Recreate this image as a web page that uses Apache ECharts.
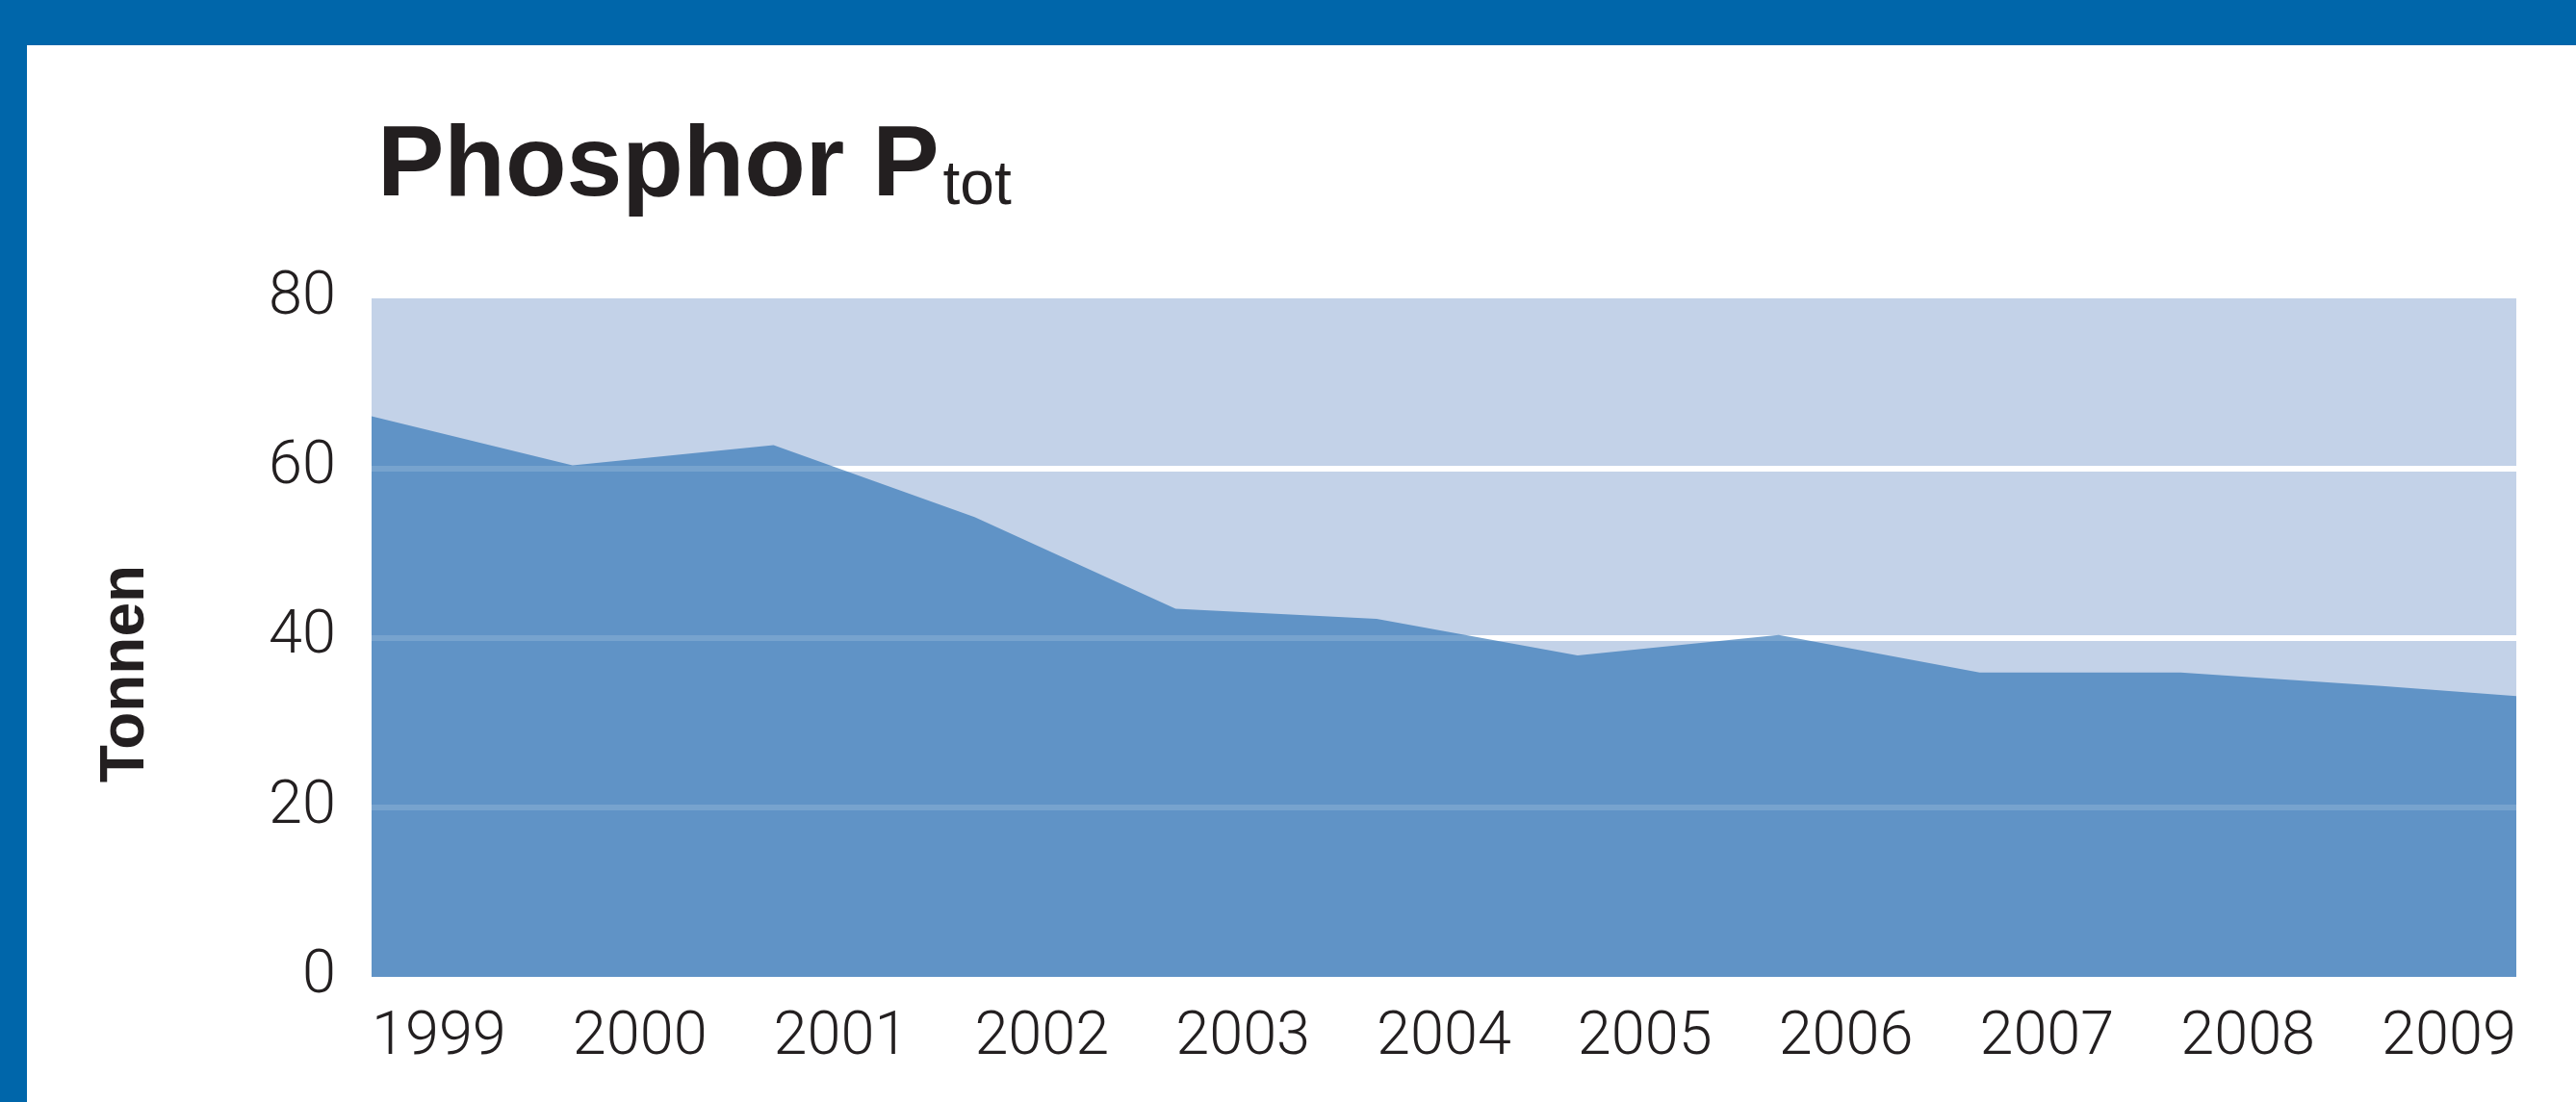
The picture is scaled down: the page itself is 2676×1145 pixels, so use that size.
<!DOCTYPE html>
<html>
<head>
<meta charset="utf-8">
<title>Phosphor Ptot</title>
<script src="https://cdn.jsdelivr.net/npm/echarts@6/dist/echarts.min.js"></script>
<style>
  html, body { margin: 0; padding: 0; background: #fff; }
  #wrap { position: relative; width: 2676px; height: 1145px; overflow: hidden; background: #fff; }
  .band-top { position: absolute; left: 0; top: 0; width: 2676px; height: 47px; background: #0066aa; }
  .band-left { position: absolute; left: 0; top: 0; width: 28px; height: 1145px; background: #0066aa; }
  #chart { position: absolute; left: 0; top: 0; width: 2676px; height: 1145px; }
</style>
</head>
<body>
<div id="wrap">
  <div class="band-top"></div>
  <div class="band-left"></div>
  <div id="chart"></div>
</div>
<script>
// Jahre und Werte (Tonnen)
const years = [1999, 2000, 2001, 2002, 2003, 2004, 2005, 2006, 2007, 2008, 2009];
const tonnen = [66.1, 60.3, 62.7, 54.2, 43.4, 42.2, 37.9, 40.3, 35.9, 35.9, 34.3];
// die Fläche läuft bis zum rechten Rand der Grafik weiter
const edgeYear = 2009.67;
const edgeValue = 33.1;
const yTicks = [0, 20, 40, 60, 80];

const seriesData = years.map((y, i) => [y, tonnen[i]]);
seriesData.push([edgeYear, edgeValue]);

const textColor = "#231f20";
const labelFont = "Roboto, 'Liberation Sans', sans-serif";

const myChart = echarts.init(document.getElementById("chart"));
const option = {
  animation: false,
  title: {
    left: 387,
    top: 117,
    text: "{main|Phosphor P}{sub|tot}",
    textStyle: {
      rich: {
        main: {
          fontFamily: "'Liberation Sans', Arial, sans-serif",
          fontWeight: "bold",
          fontSize: 104,
          lineHeight: 104,
          color: textColor,
          verticalAlign: "bottom",
        },
        sub: {
          fontFamily: "'Liberation Sans', Arial, sans-serif",
          fontWeight: "normal",
          fontSize: 64,
          lineHeight: 76,
          color: textColor,
          verticalAlign: "bottom",
          padding: [0, 0, 0, 4],
        },
      },
    },
  },
  grid: {
    left: 386,
    right: 62,
    top: 310,
    bottom: 130,
    show: true,
    backgroundColor: "#c3d2e8",
    borderWidth: 0,
  },
  xAxis: {
    type: "value",
    min: years[0],
    max: edgeYear,
    interval: 1,
    axisLine: { show: false },
    axisTick: { show: false },
    splitLine: { show: false },
    axisLabel: {
      align: "left",
      margin: 33,
      fontFamily: labelFont,
      fontWeight: 300,
      fontSize: 63,
      color: textColor,
      formatter: function (v) {
        return Number.isInteger(v) && years.indexOf(v) >= 0 ? String(v) : "";
      },
    },
  },
  yAxis: [
    {
      type: "value",
      min: yTicks[0],
      max: yTicks[yTicks.length - 1],
      interval: 20,
      z: 0,
      axisLine: { show: false },
      axisTick: { show: false },
      splitLine: {
        show: true,
        showMinLine: false,
        showMaxLine: false,
        lineStyle: { color: "#ffffff", width: 6 },
      },
      axisLabel: {
        margin: 37,
        padding: [10, 0, 0, 0],
        fontFamily: labelFont,
        fontWeight: 300,
        fontSize: 63,
        color: textColor,
      },
    },
    {
      // helle Gitterlinien über der Fläche
      type: "value",
      min: yTicks[0],
      max: yTicks[yTicks.length - 1],
      interval: 20,
      z: 5,
      axisLine: { show: false },
      axisTick: { show: false },
      axisLabel: { show: false },
      splitLine: {
        show: true,
        showMinLine: false,
        showMaxLine: false,
        lineStyle: { color: "rgba(255,255,255,0.15)", width: 6 },
      },
    },
  ],
  graphic: [
    {
      type: "text",
      x: 131,
      y: 700,
      rotation: Math.PI / 2,
      style: {
        text: "Tonnen",
        fontFamily: "'Liberation Sans', Arial, sans-serif",
        fontWeight: "bold",
        fontSize: 64,
        fill: textColor,
        align: "center",
        verticalAlign: "middle",
      },
    },
  ],
  series: [
    {
      type: "line",
      data: seriesData,
      symbol: "none",
      z: 2,
      lineStyle: { width: 0 },
      areaStyle: { color: "#6093c6", opacity: 1 },
    },
  ],
};
myChart.setOption(option);

window.addEventListener("resize", function () {
  myChart.resize();
});
</script>
</body>
</html>
